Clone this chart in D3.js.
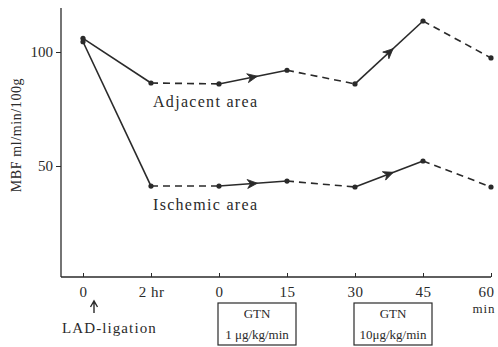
<!DOCTYPE html>
<html><head><meta charset="utf-8">
<script src="https://cdn.jsdelivr.net/npm/d3@7/dist/d3.min.js"></script>
<style>body{margin:0;background:#fff}svg{display:block}text{font-family:"Liberation Serif","DejaVu Serif",serif;fill:#2a2a2a}</style>
</head><body><svg id="c" width="498" height="347"></svg>
<script>
const tickLabels = ["0","2 hr","0","15","30","45","60"];
const adjacent = [106, 86.4, 86, 92, 86, 113.6, 97.4];
const ischemic = [104.5, 41.2, 41.2, 43.4, 40.8, 52.2, 40.8];
const segmentStyles = ["solid","dashed","arrow","dashed","arrow","dashed"];
const yTicks = [50, 100];
const seriesLabels = ["Adjacent area","Ischemic area"];
const boxes = [{from:2, lines:["GTN","1 μg/kg/min"]},{from:4, lines:["GTN","10μg/kg/min"]}];

const svg = d3.select("#c");
const ink = "#2a2a2a";
const x = d3.scalePoint().domain(d3.range(tickLabels.length)).range([83, 491]);
const y = d3.scaleLinear().domain([50, 100]).range([166, 52]);
const axisBottomY = 277, axisLeftX = 61;

// axes
svg.append("line").attr("x1", axisLeftX).attr("x2", axisLeftX).attr("y1", 8).attr("y2", axisBottomY)
  .attr("stroke", ink).attr("stroke-width", 1.3);
svg.append("line").attr("x1", axisLeftX).attr("x2", x(6)).attr("y1", axisBottomY).attr("y2", axisBottomY)
  .attr("stroke", ink).attr("stroke-width", 1.3);

const yAxis = d3.axisLeft(y).tickValues(yTicks).tickSize(5).tickPadding(3);
const ga = svg.append("g").attr("transform", `translate(${axisLeftX},0)`).call(yAxis);
ga.select(".domain").remove();
ga.selectAll("line").attr("stroke", ink);
ga.selectAll("text").style("font-family", '"Liberation Serif",serif').style("font-size", "15px").attr("fill", ink);

const xAxis = d3.axisBottom(x).tickFormat(i => tickLabels[i]).tickSize(-4).tickPadding(9);
const gx = svg.append("g").attr("transform", `translate(0,${axisBottomY})`).call(xAxis);
gx.select(".domain").remove();
gx.selectAll("line").attr("stroke", ink);
gx.selectAll("text").style("font-family", '"Liberation Serif",serif').style("font-size", "15px")
  .style("letter-spacing", "0.5px").attr("fill", ink)
  .attr("dx", (d, i) => i === tickLabels.length - 1 ? -5 : 0);

svg.append("text").attr("x", 484).attr("y", 313).attr("text-anchor", "middle")
  .style("font-size", "13px").style("letter-spacing", "1px").text("min");

// y label
svg.append("text").attr("transform", "translate(21,135) rotate(-90)").attr("text-anchor", "middle")
  .style("font-size", "14px").style("letter-spacing", "0.6px").text("MBF ml/min/100g");

// LAD ligation
const ax0 = x(0) + 11;
svg.append("path").attr("d", `M${ax0},313 L${ax0},302 M${ax0-3.5},307 L${ax0},301 L${ax0+3.5},307`)
  .attr("fill", "none").attr("stroke", ink).attr("stroke-width", 1.4);
svg.append("text").attr("x", 62).attr("y", 333).style("font-size", "15px").style("letter-spacing", "1.1px").text("LAD-ligation");

// boxes
boxes.forEach(b => {
  const x0 = x(b.from) - 1, x1 = x0 + 78;
  svg.append("rect").attr("x", x0).attr("y", 303).attr("width", x1 - x0).attr("height", 42)
    .attr("fill", "none").attr("stroke", ink).attr("stroke-width", 1.2);
  b.lines.forEach((t, i) => svg.append("text").attr("x", (x0 + x1) / 2).attr("y", 318 + i * 21)
    .attr("text-anchor", "middle").style("font-size", "13px").text(t));
});

// series
function drawSeries(vals) {
  segmentStyles.forEach((s, i) => {
    const x1 = x(i), y1 = y(vals[i]), x2 = x(i + 1), y2 = y(vals[i + 1]);
    svg.append("line").attr("x1", x1).attr("y1", y1).attr("x2", x2).attr("y2", y2)
      .attr("stroke", ink).attr("stroke-width", 1.6)
      .attr("stroke-dasharray", s === "dashed" ? "7,5" : null);
    if (s === "arrow") {
      const t = 0.55, ax = x1 + (x2 - x1) * t, ay = y1 + (y2 - y1) * t;
      const ang = Math.atan2(y2 - y1, x2 - x1) * 180 / Math.PI;
      svg.append("path").attr("d", "M-9,-4.5 L1,0 L-9,4.5 L-6,0 Z")
        .attr("transform", `translate(${ax},${ay}) rotate(${ang})`)
        .attr("fill", ink).attr("stroke", ink).attr("stroke-width", 0.8);
    }
  });
  svg.selectAll(null).data(vals).enter().append("circle")
    .attr("cx", (d, i) => x(i)).attr("cy", d => y(d)).attr("r", 2.6).attr("fill", ink);
}
drawSeries(adjacent);
drawSeries(ischemic);

svg.append("text").attr("x", 153).attr("y", 107).style("font-size", "16px").style("letter-spacing", "1.3px").text(seriesLabels[0]);
svg.append("text").attr("x", 153).attr("y", 210).style("font-size", "16px").style("letter-spacing", "1.3px").text(seriesLabels[1]);
</script></body></html>
